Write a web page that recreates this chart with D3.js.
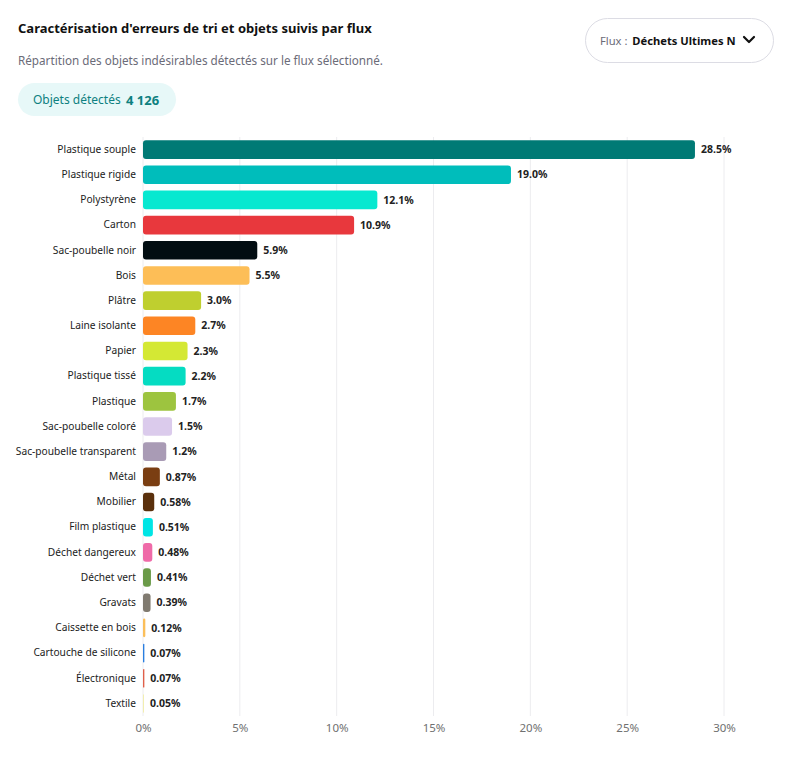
<!DOCTYPE html>
<html>
<head>
<meta charset="utf-8">
<script src="https://cdn.jsdelivr.net/npm/d3@7"></script>
<style>
  body { margin: 0; background: #fff; font-family: "Noto Sans", "Open Sans", sans-serif; }
</style>
</head>
<body>
<div id="chart"></div>
<script>
// Data
const categories = [
    "Plastique souple", "Plastique rigide", "Polystyrène", "Carton", "Sac-poubelle noir",
    "Bois", "Plâtre", "Laine isolante", "Papier", "Plastique tissé", "Plastique",
    "Sac-poubelle coloré", "Sac-poubelle transparent", "Métal", "Mobilier", "Film plastique",
    "Déchet dangereux", "Déchet vert", "Gravats", "Caissette en bois",
    "Cartouche de silicone", "Électronique", "Textile"
];
const shares = [
    28.5, 19.0, 12.1, 10.9, 5.9, 5.5, 3.0, 2.7, 2.3, 2.2, 1.7,
    1.5, 1.2, 0.87, 0.58, 0.51, 0.48, 0.41, 0.39, 0.12, 0.07, 0.07, 0.05
];
const barColors = [
    "#007a75", "#00bdbb", "#07e8d0", "#e8383d", "#020d12",
    "#fdbe57", "#bfcf2f", "#fd8524", "#d4e834", "#05dcc2", "#9dc43f",
    "#dbcbec", "#a99bb5", "#7a3e12", "#5a300c", "#00e5e5",
    "#ef6aa8", "#6a9a48", "#807a70", "#fbbf5a",
    "#2a7ee0", "#e0604a", "#f2eeb0"
];
const xTicks = [0, 5, 10, 15, 20, 25, 30];
const totalObjects = "4 126";
const fluxLabel = "Déchets Ultimes N";

const W = 794, H = 760;
const margin = { top: 137, right: 70, bottom: 44, left: 143 };

const svg = d3.select("#chart").append("svg")
    .attr("width", W)
    .attr("height", H);

// Header
svg.append("text")
    .attr("x", 18).attr("y", 33)
    .attr("font-size", 13).attr("font-weight", 700).attr("fill", "#111")
    .text("Caractérisation d'erreurs de tri et objets suivis par flux");

svg.append("text")
    .attr("x", 18).attr("y", 65)
    .attr("font-size", 11.7).attr("fill", "#6b6b78")
    .text("Répartition des objets indésirables détectés sur le flux sélectionné.");

// Count pill
svg.append("rect")
    .attr("x", 18).attr("y", 83).attr("width", 158).attr("height", 33).attr("rx", 16.5)
    .attr("fill", "#e7f8f8");
svg.append("text")
    .attr("x", 33).attr("y", 104)
    .attr("font-size", 12).attr("fill", "#0d8080")
    .text("Objets détectés");
svg.append("text")
    .attr("x", 126).attr("y", 104.5)
    .attr("font-size", 13).attr("font-weight", 700).attr("fill", "#0d8080")
    .text(totalObjects);

// Flux selector
const sel = svg.append("g");
sel.append("rect")
    .attr("x", 585.5).attr("y", 18.5).attr("width", 188).attr("height", 44).attr("rx", 22)
    .attr("fill", "#fff").attr("stroke", "#dcdce4");
const selText = sel.append("text")
    .attr("x", 600).attr("y", 45)
    .attr("font-size", 11.2);
selText.append("tspan").attr("fill", "#6b6b78").text("Flux : ");
selText.append("tspan").attr("fill", "#111").attr("font-weight", 700).attr("dx", 2).text(fluxLabel);
sel.append("path")
    .attr("d", "M744,37 L749,42 L754,37")
    .attr("fill", "none").attr("stroke", "#111").attr("stroke-width", 2.2)
    .attr("stroke-linecap", "round").attr("stroke-linejoin", "round");

// Scales
const x = d3.scaleLinear()
    .domain([0, 30])
    .range([margin.left, 724]);

const y = d3.scaleBand()
    .domain(categories)
    .range([margin.top, H - margin.bottom])
    .paddingInner(0.26)
    .paddingOuter(0.13);

// Gridlines
svg.append("g")
    .selectAll("line")
    .data(xTicks)
    .enter()
    .append("line")
    .attr("x1", d => x(d)).attr("x2", d => x(d))
    .attr("y1", margin.top).attr("y2", H - margin.bottom)
    .attr("stroke", "#ececef").attr("stroke-width", 1);

// X axis
const xAxis = svg.append("g")
    .attr("transform", `translate(0, ${H - margin.bottom})`)
    .call(d3.axisBottom(x).tickValues(xTicks).tickFormat(d => d + "%").tickSize(0).tickPadding(8));
xAxis.select(".domain").remove();
xAxis.selectAll("text")
    .attr("font-family", "Noto Sans, sans-serif")
    .attr("font-size", 11.5).attr("fill", "#707070");

// Y axis labels
const yAxis = svg.append("g")
    .attr("transform", `translate(${margin.left}, 0)`)
    .call(d3.axisLeft(y).tickSize(0).tickPadding(7));
yAxis.select(".domain").remove();
yAxis.selectAll("text")
    .attr("font-family", "Noto Sans, sans-serif")
    .attr("font-size", 10.2).attr("fill", "#222");

const rows = categories.map((c, i) => ({ name: c, value: shares[i], color: barColors[i] }));

// Bars
svg.append("g")
    .selectAll("rect")
    .data(rows)
    .enter()
    .append("rect")
    .attr("x", x(0))
    .attr("y", d => y(d.name))
    .attr("width", d => Math.max(1, x(d.value) - x(0)))
    .attr("height", y.bandwidth())
    .attr("rx", d => Math.min(3, (x(d.value) - x(0)) / 2))
    .attr("fill", d => d.color);

// Value labels
const fmt = v => (v >= 1 ? v.toFixed(1) : v.toFixed(2)) + "%";
svg.append("g")
    .selectAll("text")
    .data(rows)
    .enter()
    .append("text")
    .attr("x", d => Math.max(x(d.value), x(0) + 1) + 6)
    .attr("y", d => y(d.name) + y.bandwidth() / 2)
    .attr("dy", "0.35em")
    .attr("font-size", 10.5).attr("font-weight", 700).attr("fill", "#222")
    .text(d => fmt(d.value));
</script>
</body>
</html>
